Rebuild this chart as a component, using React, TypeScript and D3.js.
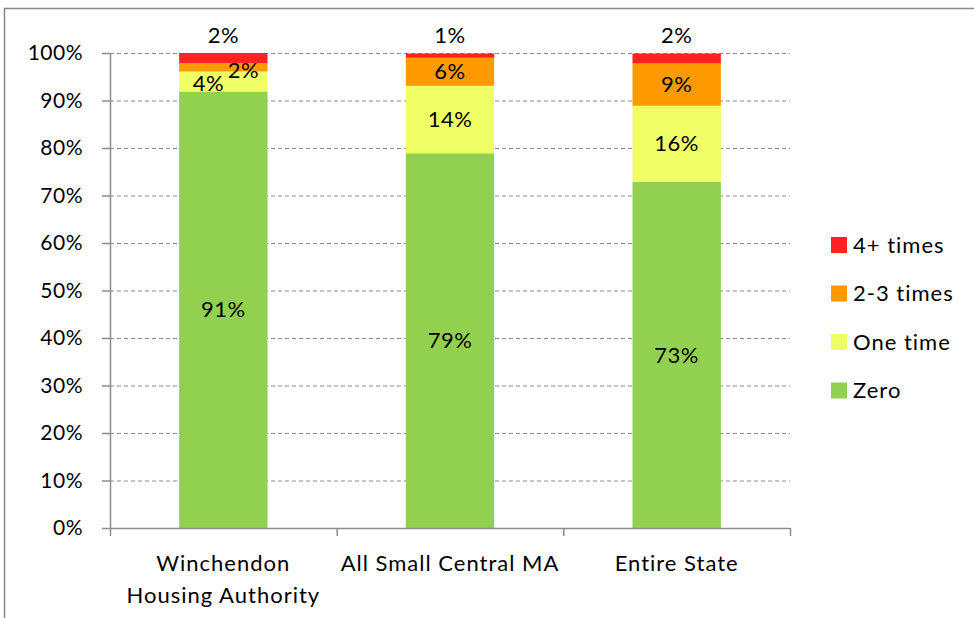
import { useRef, useEffect } from "react";
import * as d3 from "d3";

const categories = ["Winchendon|Housing Authority", "All Small Central MA", "Entire State"];
const seriesNames = ["Zero", "One time", "2-3 times", "4+ times"];
const zero = [91.9, 78.9, 72.9];
const oneTime = [4.2, 14.2, 16.0];
const twoThree = [1.8, 5.9, 8.9];
const fourPlus = [2.1, 0.9, 2.1];
const labelZero = ["91%", "79%", "73%"];
const labelOne = ["4%", "14%", "16%"];
const labelTwo = ["2%", "6%", "9%"];
const labelFour = ["2%", "1%", "2%"];
const yTicks = [0, 10, 20, 30, 40, 50, 60, 70, 80, 90, 100];
const colors = ["#92D050", "#F0FF66", "#FF9900", "#FF2222"];

export default function App() {
  const ref = useRef<SVGSVGElement>(null);
  const width = 974;
  const height = 618;

  useEffect(() => {
    if (!ref.current) return;
    const svg = d3.select(ref.current);
    svg.selectAll("*").remove();
    const font = "Lato, 'Open Sans', sans-serif";

    // outer frame
    svg.append("path").attr("d", `M4.5,${height} V8.5 H${width}`)
      .attr("fill", "none").attr("stroke", "#898989").attr("stroke-width", 1.5);

    const m = { top: 53, left: 110, right: 184, bottom: 90 };
    const w = width - m.left - m.right;
    const h = height - m.top - m.bottom;
    const g = svg.append("g").attr("transform", `translate(${m.left},${m.top})`);

    const x = d3.scaleBand().domain(categories).range([0, w]).paddingInner(0.61).paddingOuter(0.305);
    const y = d3.scaleLinear().domain([0, 100]).range([h, 0]);

    // gridlines
    g.append("g").selectAll("line").data(yTicks.filter(t => t > 0)).enter().append("line")
      .attr("x1", 0).attr("x2", w).attr("y1", d => y(d) + 0.5).attr("y2", d => y(d) + 0.5)
      .attr("stroke", "#8c8c8c").attr("stroke-width", 1.2).attr("stroke-dasharray", "4,3");

    // stacked bars
    const rows = categories.map((c, i) => ({
      cat: c, Zero: zero[i], "One time": oneTime[i], "2-3 times": twoThree[i], "4+ times": fourPlus[i],
    }));
    const stack = d3.stack<any>().keys(seriesNames)(rows);
    const labels = [labelZero, labelOne, labelTwo, labelFour];

    stack.forEach((layer, si) => {
      g.append("g").selectAll("rect").data(layer).enter().append("rect")
        .attr("x", d => x(d.data.cat)!)
        .attr("width", x.bandwidth())
        .attr("y", d => y(d[1]))
        .attr("height", d => y(d[0]) - y(d[1]))
        .attr("fill", colors[si]);
    });

    stack.forEach((layer, si) => {
      layer.forEach((d, ci) => {
        let cx = x(d.data.cat)! + x.bandwidth() / 2;
        let cy = (y(d[0]) + y(d[1])) / 2;
        if (si === 3) cy = y(100) - 18;
        else if (d[1] - d[0] < 3) { cx += 20; cy += 3; }
        else if (d[1] - d[0] < 5) { cx -= 15; cy += 2; }
        g.append("text").attr("x", cx).attr("y", cy).attr("dy", "0.35em")
          .attr("text-anchor", "middle").attr("font-family", font).attr("font-size", 22)
          .attr("letter-spacing", 0.5).attr("fill", "#000").text(labels[si][ci]);
      });
    });

    // y axis
    g.append("line").attr("x1", 0.5).attr("x2", 0.5).attr("y1", 0).attr("y2", h)
      .attr("stroke", "#8c8c8c").attr("stroke-width", 1.5);
    g.append("g").selectAll("line").data(yTicks).enter().append("line")
      .attr("x1", -8).attr("x2", 0).attr("y1", d => y(d) + 0.5).attr("y2", d => y(d) + 0.5)
      .attr("stroke", "#8c8c8c").attr("stroke-width", 1.5);
    g.append("g").selectAll("text").data(yTicks).enter().append("text")
      .attr("x", -27).attr("y", d => y(d)).attr("dy", "0.35em").attr("text-anchor", "end")
      .attr("font-family", font).attr("font-size", 21).attr("letter-spacing", 0.5)
      .attr("fill", "#000").text(d => `${d}%`);

    // x axis
    g.append("line").attr("x1", 0).attr("x2", w).attr("y1", h + 0.5).attr("y2", h + 0.5)
      .attr("stroke", "#8c8c8c").attr("stroke-width", 1.5);
    const step = x.step();
    const bounds = d3.range(categories.length + 1).map(i => i * step);
    g.append("g").selectAll("line").data(bounds).enter().append("line")
      .attr("x1", d => d + 0.5).attr("x2", d => d + 0.5).attr("y1", h).attr("y2", h + 8)
      .attr("stroke", "#8c8c8c").attr("stroke-width", 1.5);
    categories.forEach(c => {
      const parts = c.split("|");
      const t = g.append("text").attr("text-anchor", "middle").attr("font-family", font)
        .attr("font-size", 22).attr("letter-spacing", 1).attr("fill", "#000");
      parts.forEach((p, i) => {
        t.append("tspan").attr("x", x(c)! + x.bandwidth() / 2).attr("y", h + 43 + i * 32).text(p);
      });
    });

    // legend
    const legendOrder = [3, 2, 1, 0];
    const lg = svg.append("g").attr("transform", "translate(831,245)");
    legendOrder.forEach((si, i) => {
      const row = lg.append("g").attr("transform", `translate(0,${i * 48.5})`);
      row.append("rect").attr("x", 0).attr("y", -8).attr("width", 16).attr("height", 16).attr("fill", colors[si]);
      row.append("text").attr("x", 22).attr("y", 0).attr("dy", "0.35em")
        .attr("font-family", font).attr("font-size", 22).attr("letter-spacing", 1)
        .attr("fill", "#000").text(seriesNames[si]);
    });
  }, []);

  return <svg ref={ref} width={width} height={height} style={{ position: "absolute", left: 0, top: 0 }} />;
}
